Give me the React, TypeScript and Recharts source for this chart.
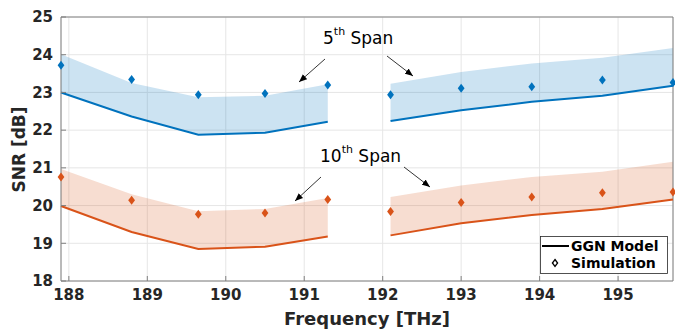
import React from 'react';
import {
  Area,
  CartesianGrid,
  ComposedChart,
  Line,
  ReferenceLine,
  Scatter,
  XAxis,
  YAxis,
} from 'recharts';

// Channel frequencies [THz] – two groups with a gap in between
const freqLeft = [187.9, 188.8, 189.65, 190.5, 191.3];
const freqRight = [192.1, 193.0, 193.9, 194.8, 195.7];

// 5th span
const model5Left = [23.0, 22.36, 21.88, 21.93, 22.22];
const model5Right = [22.24, 22.53, 22.75, 22.91, 23.18];
const upper5Left = [24.01, 23.25, 22.87, 22.91, 23.22];
const upper5Right = [23.23, 23.54, 23.77, 23.92, 24.18];
const sim5 = [23.72, 23.34, 22.94, 22.97, 23.2, 22.94, 23.11, 23.15, 23.33, 23.26];

// 10th span
const model10Left = [19.99, 19.3, 18.85, 18.91, 19.18];
const model10Right = [19.21, 19.53, 19.75, 19.91, 20.16];
const upper10Left = [20.97, 20.3, 19.85, 19.91, 20.2];
const upper10Right = [20.23, 20.53, 20.76, 20.9, 21.16];
const sim10 = [20.76, 20.14, 19.77, 19.8, 20.16, 19.84, 20.08, 20.23, 20.34, 20.36];

const xTicks = [188, 189, 190, 191, 192, 193, 194, 195];
const yTicks = [18, 19, 20, 21, 22, 23, 24, 25];
const xDomain = [187.9, 195.7];
const yDomain = [18, 25];

const BLUE = '#0072BD';
const ORANGE = '#D95319';
const AXIS = '#262626';
const BOX = '#808080';

const segment = (freqs: number[], model: number[], upper: number[]) =>
  freqs.map((f, i) => ({ f, model: model[i], band: [model[i], upper[i]] }));

const seg5Left = segment(freqLeft, model5Left, upper5Left);
const seg5Right = segment(freqRight, model5Right, upper5Right);
const seg10Left = segment(freqLeft, model10Left, upper10Left);
const seg10Right = segment(freqRight, model10Right, upper10Right);

const allFreqs = [...freqLeft, ...freqRight];
const simPoints5 = allFreqs.map((f, i) => ({ f, sim: sim5[i] }));
const simPoints10 = allFreqs.map((f, i) => ({ f, sim: sim10[i] }));

const Diamond = (props: any) => {
  const { cx, cy, fill } = props;
  if (cx == null || cy == null) return null;
  const w = 3.4;
  const h = 4.5;
  return (
    <polygon
      points={`${cx},${cy - h} ${cx + w},${cy} ${cx},${cy + h} ${cx - w},${cy}`}
      fill={fill}
    />
  );
};

const tickStyle = { fontSize: 15, fontWeight: 700, fill: AXIS };

export default function App() {
  const bands = [
    { data: seg5Left, color: BLUE },
    { data: seg5Right, color: BLUE },
    { data: seg10Left, color: ORANGE },
    { data: seg10Right, color: ORANGE },
  ];

  return (
    <div
      style={{
        position: 'absolute',
        left: 0,
        top: 0,
        width: 675,
        height: 329,
        background: '#fff',
        fontFamily: 'DejaVu Sans, sans-serif',
      }}
    >
      <ComposedChart
        width={675}
        height={329}
        margin={{ top: 17, right: 2, bottom: 0, left: 0 }}
      >
        <CartesianGrid stroke="#e6e6e6" strokeWidth={1} />
        {/* inward ticks, MATLAB style */}
        <XAxis
          dataKey="f"
          type="number"
          domain={xDomain}
          ticks={xTicks}
          height={48}
          tick={tickStyle}
          tickSize={-5}
          tickMargin={13}
          tickLine={{ stroke: BOX }}
          stroke={BOX}
        />
        <YAxis
          type="number"
          domain={yDomain}
          ticks={yTicks}
          width={61}
          tick={tickStyle}
          tickSize={-5}
          tickMargin={13}
          tickLine={{ stroke: BOX }}
          stroke={BOX}
        />
        <ReferenceLine y={25} stroke={BOX} />
        <ReferenceLine x={195.7} stroke={BOX} />

        {bands.map((b, i) => (
          <Area
            key={`band-${i}`}
            data={b.data}
            dataKey="band"
            type="linear"
            stroke="none"
            fill={b.color}
            fillOpacity={0.2}
            isAnimationActive={false}
          />
        ))}
        {bands.map((b, i) => (
          <Line
            key={`model-${i}`}
            data={b.data}
            dataKey="model"
            type="linear"
            stroke={b.color}
            strokeWidth={2}
            dot={false}
            activeDot={false}
            isAnimationActive={false}
          />
        ))}
        <Scatter
          data={simPoints5}
          dataKey="sim"
          fill={BLUE}
          shape={Diamond}
          isAnimationActive={false}
        />
        <Scatter
          data={simPoints10}
          dataKey="sim"
          fill={ORANGE}
          shape={Diamond}
          isAnimationActive={false}
        />
      </ComposedChart>

      {/* annotations, axis titles and legend */}
      <svg
        width={675}
        height={329}
        style={{ position: 'absolute', left: 0, top: 0, pointerEvents: 'none' }}
      >
        <defs>
          <marker
            id="arrow"
            viewBox="0 0 10 10"
            refX="10"
            refY="5"
            markerWidth="8"
            markerHeight="8"
            orient="auto"
            markerUnits="userSpaceOnUse"
          >
            <path d="M0,1 L10,5 L0,9 Z" fill="#000" />
          </marker>
        </defs>

        <text x={323} y={44} fontSize={17} fill="#000">
          5<tspan fontSize={11} dy={-9}>th</tspan>
          <tspan dy={9}> Span</tspan>
        </text>
        <line x1={325} y1={59} x2={299} y2={82} stroke="#000" strokeWidth={0.8} markerEnd="url(#arrow)" />
        <line x1={387} y1={56} x2={413} y2={76} stroke="#000" strokeWidth={0.8} markerEnd="url(#arrow)" />

        <text x={320} y={162} fontSize={17} fill="#000">
          10<tspan fontSize={11} dy={-9}>th</tspan>
          <tspan dy={9}> Span</tspan>
        </text>
        <line x1={321} y1={177} x2={295} y2={201} stroke="#000" strokeWidth={0.8} markerEnd="url(#arrow)" />
        <line x1={404} y1={167} x2={430} y2={187} stroke="#000" strokeWidth={0.8} markerEnd="url(#arrow)" />

        <text x={367} y={325} fontSize={18} fontWeight={700} fill={AXIS} textAnchor="middle">
          Frequency [THz]
        </text>
        <text
          transform="translate(25,149.5) rotate(-90)"
          fontSize={17}
          fontWeight={700}
          fill={AXIS}
          textAnchor="middle"
        >
          SNR [dB]
        </text>

        <rect x={540.5} y={236.5} width={127} height={37} fill="#fff" stroke={AXIS} strokeWidth={0.8} />
        <line x1={542} y1={246} x2={569} y2={246} stroke="#000" strokeWidth={2} />
        <text x={571} y={251} fontSize={14} fontWeight={700} fill="#000">
          GGN Model
        </text>
        <polygon points="555,259.5 557.6,263 555,266.5 552.4,263" fill="none" stroke="#000" strokeWidth={1.3} />
        <text x={571} y={268} fontSize={14} fontWeight={700} fill="#000">
          Simulation
        </text>
      </svg>
    </div>
  );
}
